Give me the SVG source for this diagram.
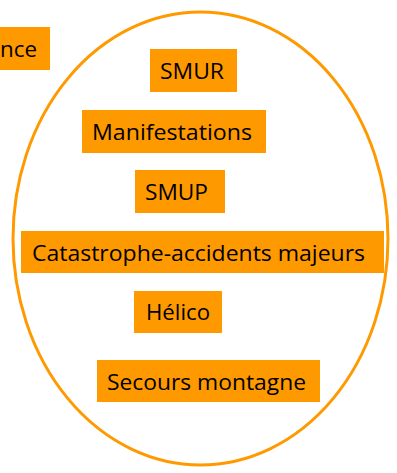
<svg xmlns="http://www.w3.org/2000/svg" width="397" height="473" viewBox="0 0 397 473">
<style>
.box{fill:#FF9900;}
.lbl{font-family:"Open Sans","Liberation Sans",sans-serif;font-size:22px;fill:#000;}
.ring{fill:none;stroke:#FF9900;stroke-width:3;}
</style>
<rect width="397" height="473" fill="#fff"/>
<g id="connectors"></g>
<g id="ring"><ellipse class="ring" cx="200.5" cy="238.5" rx="187.5" ry="226.5"/></g>
<g id="n-nce"><rect class="box" x="0" y="27" width="50" height="43"/><text class="lbl" x="0" y="57" textLength="37" lengthAdjust="spacingAndGlyphs">nce</text></g>
<g id="n-smur"><rect class="box" x="150" y="49" width="87" height="43"/><text class="lbl" x="160" y="79" textLength="64" lengthAdjust="spacingAndGlyphs">SMUR</text></g>
<g id="n-manif"><rect class="box" x="82" y="110" width="184" height="43"/><text class="lbl" x="92" y="140" textLength="160" lengthAdjust="spacingAndGlyphs">Manifestations</text></g>
<g id="n-smup"><rect class="box" x="135" y="170" width="90" height="43"/><text class="lbl" x="145" y="200" textLength="63" lengthAdjust="spacingAndGlyphs">SMUP</text></g>
<g id="n-cata"><rect class="box" x="21" y="231" width="363" height="42"/><text class="lbl" x="32" y="261" textLength="333" lengthAdjust="spacingAndGlyphs">Catastrophe-accidents majeurs</text></g>
<g id="n-helico"><rect class="box" x="134" y="291" width="88" height="42"/><text class="lbl" x="146" y="320" textLength="64" lengthAdjust="spacingAndGlyphs">Hélico</text></g>
<g id="n-secours"><rect class="box" x="97" y="360" width="223" height="42"/><text class="lbl" x="107" y="390" textLength="199" lengthAdjust="spacingAndGlyphs">Secours montagne</text></g>
</svg>
